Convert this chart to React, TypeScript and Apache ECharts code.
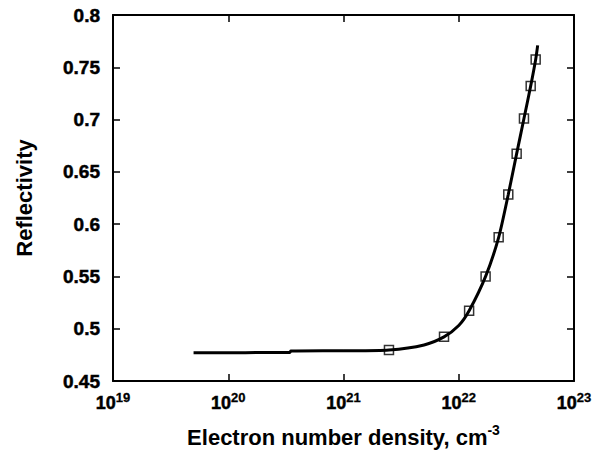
import React, { useEffect, useRef } from "react";
import * as echarts from "echarts";

// Electron number density (cm^-3) and reflectivity along the solid curve
const curveDensity = [5e19, 3.4e20, 3.5e20, 1e21, 2.48e21, 5e21, 7.45e21, 1e22, 1.23e22, 1.71e22, 2.22e22, 2.69e22, 3.18e22, 3.68e22, 4.21e22, 4.65e22, 4.84e22];
const curveReflectivity = [0.4771, 0.4772, 0.4786, 0.4789, 0.4797, 0.4845, 0.4922, 0.503, 0.5171, 0.55, 0.5874, 0.6284, 0.6674, 0.701, 0.7322, 0.7575, 0.771];

// Square markers
const markerDensity = [2.48e21, 7.45e21, 1.23e22, 1.71e22, 2.22e22, 2.69e22, 3.18e22, 3.68e22, 4.21e22, 4.65e22];
const markerReflectivity = [0.4797, 0.4922, 0.5171, 0.55, 0.5874, 0.6284, 0.6674, 0.701, 0.7322, 0.7575];

const yTicks = { min: 0.45, max: 0.8, interval: 0.05 };
const xTicks = { min: 1e19, max: 1e23 };

const FONT = "Liberation Sans";

export default function App() {
  const ref = useRef<HTMLDivElement>(null);
  useEffect(() => {
    if (!ref.current) return;
    const chart = echarts.init(ref.current, undefined, { renderer: "svg" });
    const axisLine = { show: true, lineStyle: { color: "#000", width: 2 } };
    const axisTick = { show: true, inside: true, length: 7, lineStyle: { color: "#000", width: 1.5 } };
    const tickText = { fontFamily: FONT, fontWeight: 700, color: "#000", textBorderColor: "#000", textBorderWidth: 0.5 };
    chart.setOption({
      animation: false,
      backgroundColor: "#fff",
      grid: { left: 113, right: 22, top: 15, bottom: 75 },
      xAxis: [
        {
          type: "log",
          logBase: 10,
          min: xTicks.min,
          max: xTicks.max,
          axisLine,
          axisTick,
          minorTick: { show: false },
          splitLine: { show: false },
          axisLabel: {
            margin: 10,
            fontFamily: FONT,
            fontWeight: 700,
            formatter: (v: number) => `{b|10}{s|${Math.round(Math.log10(v))}}`,
            rich: {
              b: { ...tickText, fontSize: 18 },
              s: { ...tickText, fontSize: 13, textBorderWidth: 0.3, padding: [0, 0, 10, 0] },
            },
          },
          name: "{a|Electron number density, cm}{s|-3}",
          nameLocation: "middle",
          nameGap: 42,
          nameTextStyle: {
            rich: {
              a: { fontFamily: FONT, fontWeight: "bold", fontSize: 22, color: "#000" },
              s: { fontFamily: FONT, fontWeight: "bold", fontSize: 14, color: "#000", padding: [0, 0, 14, 0] },
            },
          },
        },
        {
          type: "log",
          logBase: 10,
          min: xTicks.min,
          max: xTicks.max,
          position: "top",
          axisLine,
          axisTick,
          axisLabel: { show: false },
          splitLine: { show: false },
        },
      ],
      yAxis: [
        {
          type: "value",
          min: yTicks.min,
          max: yTicks.max,
          interval: yTicks.interval,
          axisLine,
          axisTick,
          splitLine: { show: false },
          axisLabel: { margin: 13, ...tickText, fontSize: 19 },
          name: "Reflectivity",
          nameLocation: "middle",
          nameGap: 78,
          nameTextStyle: { fontFamily: FONT, fontWeight: "bold", fontSize: 22, color: "#000" },
        },
        {
          type: "value",
          min: yTicks.min,
          max: yTicks.max,
          interval: yTicks.interval,
          position: "right",
          axisLine,
          axisTick,
          axisLabel: { show: false },
          splitLine: { show: false },
        },
      ],
      series: [
        {
          type: "line",
          data: curveDensity.map((x, i) => [x, curveReflectivity[i]]),
          smooth: 0.25,
          showSymbol: false,
          lineStyle: { color: "#000", width: 3 },
          z: 2,
        },
        {
          type: "scatter",
          data: markerDensity.map((x, i) => [x, markerReflectivity[i]]),
          symbol: "rect",
          symbolSize: 9,
          itemStyle: { color: "rgba(0,0,0,0)", borderColor: "#000", borderWidth: 1.5 },
          z: 3,
        },
      ],
    });
    return () => chart.dispose();
  }, []);
  return (
    <div
      ref={ref}
      style={{ position: "fixed", left: 0, top: 0, width: 596, height: 456, background: "#fff" }}
    />
  );
}
